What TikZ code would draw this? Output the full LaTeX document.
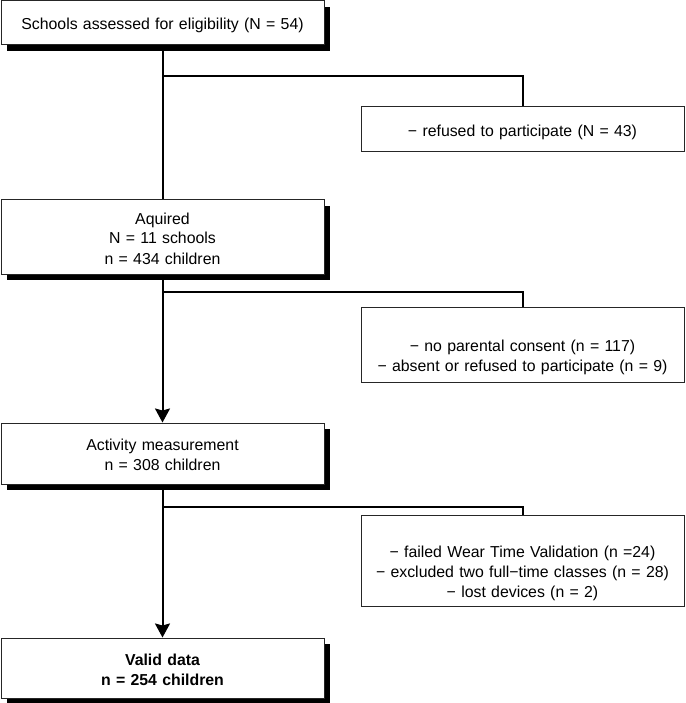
\documentclass[tikz,border=0pt]{standalone}
\usepackage{fontspec}
\setmainfont{Liberation Sans}
\usetikzlibrary{positioning,shadows,arrows.meta}

\tikzset{
  exbox/.style={draw=black!85,line width=1pt,fill=white,minimum width=323pt,
    text width=315pt,inner sep=4pt,align=center,font=\fontsize{15.85}{20}\selectfont,
    execute at begin node={\rule{0pt}{17pt}},execute at end node={\rule[-3pt]{0pt}{3pt}}},
  stagebox/.style={exbox,
    drop shadow={shadow xshift=6pt,shadow yshift=-6pt,opacity=1,fill=black}}
}

\begin{document}
\begin{tikzpicture}[on grid,node distance=214pt,line width=2pt,
    >={Stealth[length=14pt,width=15pt,inset=2pt]}]
  \useasboundingbox (0,0) rectangle (685pt,-703pt);
  % main stages
  \node[stagebox,minimum height=44pt] (s1) at (162.5pt,-23pt)
    {Schools assessed for eligibility (N = 54)};
  \node[stagebox,minimum height=74pt] (s2) [below=214pt of s1]
    {Aquired\\N = 11 schools\\n = 434 children};
  \node[stagebox,minimum height=61pt] (s3) [below=216.5pt of s2]
    {Activity measurement\\n = 308 children};
  \node[stagebox,minimum height=60pt,font=\fontsize{15.85}{20}\selectfont\bfseries] (s4)
    [below=214.5pt of s3] {Valid data\\n = 254 children};
  % exclusions
  \node[exbox,minimum height=45pt] (r1) [below right=106.5pt and 360pt of s1]
    {− refused to participate (N = 43)};
  \node[exbox,minimum height=75pt] (r2) [below right=107.5pt and 360pt of s2]
    {\\− no parental consent (n = 117)\\− absent or refused to participate (n = 9)};
  \node[exbox,minimum height=91pt] (r3) [below right=107pt and 360pt of s3]
    {\\− failed Wear Time Validation (n =24)\\− excluded two full−time classes (n = 28)\\− lost devices (n = 2)};
  \coordinate[below=53pt of s1] (b1);
  \coordinate[below=55pt of s2] (b2);
  \coordinate[below=53.5pt of s3] (b3);
  \draw (s1) -- (s2);
  \draw[->] (s2) -- (s3);
  \draw[->] (s3) -- (s4);
  \draw (b1) -| (r1);
  \draw (b2) -| (r2);
  \draw (b3) -| (r3);
\end{tikzpicture}
\end{document}
